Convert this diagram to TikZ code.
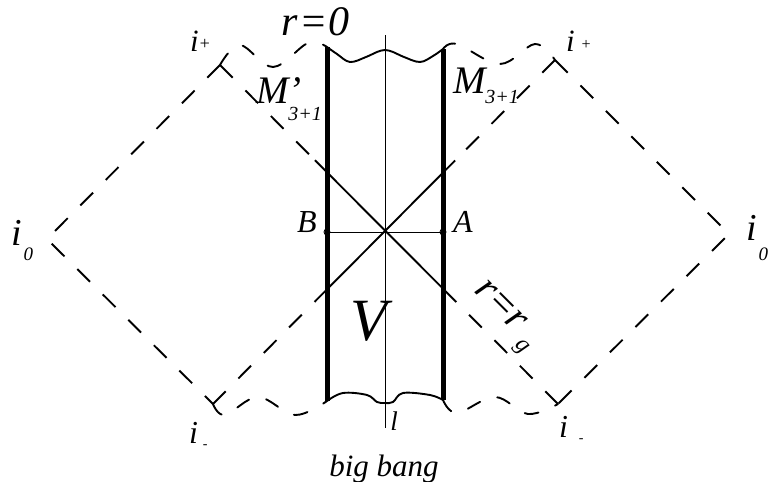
\documentclass[tikz,border=0pt]{standalone}
\usepackage{fontspec}
\setmainfont{Liberation Serif}
\usetikzlibrary{calc}
\newcommand\myfs[1]{\fontsize{#1}{#1}\selectfont}
\begin{document}
\begin{tikzpicture}[x=1pt,y=-1pt,
  dline/.style={line width=1.9pt, dash pattern=on 18pt off 18pt},
  wline/.style={line width=1.9pt, dash pattern=on 14pt off 18pt, line cap=round},
  sline/.style={line width=1.9pt},
  wallline/.style={line width=5pt},
  thinline/.style={line width=0.9pt},
  lbl/.style={font=\itshape, inner sep=0pt, outer sep=0pt}]
\useasboundingbox (0,0) rectangle (769,482);
% vertices
\coordinate (C) at (385,232);
\coordinate (LT) at (220,65);
\coordinate (LB) at (213,404);
\coordinate (LL) at (47,239);
\coordinate (RT) at (555,60);
\coordinate (RB) at (558,404);
\coordinate (RR) at (729,234);
\coordinate (S1) at ($(LT)!0.281!(RB)$);
\coordinate (S2) at ($(LT)!0.695!(RB)$);
\coordinate (S3) at ($(LB)!0.298!(RT)$);
\coordinate (S4) at ($(LB)!0.708!(RT)$);
% walls
\coordinate (BT) at (327,47);
\coordinate (BB) at (327,401);
\coordinate (AT) at (443,49);
\coordinate (AB) at (443,400);
\coordinate (Ltop) at (385,35);
\coordinate (Lbot) at (385,428);
\coordinate (Bp) at (327,232);
\coordinate (Ap) at (443,232);
% outer dashed edges
\draw[dline] (LT) -- (LL) -- (LB);
\draw[dline] (RT) -- (RR) -- (RB);
% diagonals
\draw[dline] (LT) -- (S1);
\draw[sline] (S1) -- (S2);
\draw[dline] (RB) -- (S2);
\draw[dline] (LB) -- (S3);
\draw[sline] (S3) -- (S4);
\draw[dline] (RT) -- (S4);
% top waves
\draw[wline] plot[smooth, tension=0.6] coordinates {(LT) (240,45) (273,67) (308,43) (BT)};
\draw[sline] plot[smooth, tension=0.6] coordinates {(BT) (337,54) (350,62) (366,57) (377,52) (385,50) (393,52) (404,57) (420,62) (433,56) (AT)};
\draw[wline] plot[smooth, tension=0.6] coordinates {(AT) (457,44) (500,64) (535,44) (RT)};
% bottom waves
\draw[wline] plot[smooth, tension=0.6] coordinates {(LB) (225,415) (258,397) (295,415) (BB)};
\draw[sline] plot[smooth, tension=0.6] coordinates {(BB) (343,393) (367,395) (377,402) (385,403) (393,402) (403,393) (430,395) (AB)};
\draw[wline] plot[smooth, tension=0.6] coordinates {(AB) (457,413) (495,397) (528,414) (RB)};
% central lines
\draw[thinline] (Ltop) -- (Lbot);
\draw[thinline] (Bp) -- (Ap);
\draw[wallline] (BT) -- (BB);
\draw[wallline] (AT) -- (AB);
\draw[line width=0.9pt] (Bp) circle (3pt);
\draw[line width=0.9pt] (Ap) circle (3pt);
% labels
\node[lbl, anchor=base west] (r0) at (281,35) {\myfs{42}r\hspace{2pt}=\hspace{1pt}0};
\node[lbl, anchor=base west] (ipl) at (190,51) {\myfs{31}i\raisebox{2pt}{\myfs{18}+}};
\node[lbl, anchor=base west] (ipr) at (566,51) {\myfs{31}i\hspace{6pt}\raisebox{2pt}{\myfs{16}+}};
\node[lbl, anchor=base west] (i0l) at (11,245) {\myfs{38}i\hspace{2pt}\raisebox{-15pt}{\myfs{19}0}};
\node[lbl, anchor=base west] (i0r) at (746,240) {\myfs{38}i\hspace{2pt}\raisebox{-20pt}{\myfs{19}0}};
\node[lbl, anchor=base west] (iml) at (189,443) {\myfs{32}i\hspace{5pt}\raisebox{-5pt}{\myfs{14}-}};
\node[lbl, anchor=base west] (imr) at (559,437) {\myfs{32}i\hspace{11pt}\raisebox{-5pt}{\myfs{14}-}};
\node[lbl, anchor=base west] (Ml) at (256,103) {\myfs{39}M\rlap{’}\raisebox{-17pt}{\myfs{20}3+1}};
\node[lbl, anchor=base west] (Mr) at (453,93) {\myfs{39}M\raisebox{-10pt}{\myfs{20}3+1}};
\node[lbl, anchor=base] (Bl) at (307,232) {\myfs{32}B};
\node[lbl, anchor=base] (Al) at (463,232) {\myfs{32}A};
\node[lbl, anchor=base] (Vl) at (369,340) {\myfs{60}V};
\node[lbl, anchor=base west, rotate=-45] (rg) at (473,291) {\myfs{41}r=r\hspace{8pt}\raisebox{-9pt}{\myfs{24}g}};
\node[lbl, anchor=base] (ll) at (394,430) {\myfs{27}l};
\node[lbl, anchor=base] (bb) at (384,476) {\myfs{31}big bang};
\end{tikzpicture}
\end{document}
